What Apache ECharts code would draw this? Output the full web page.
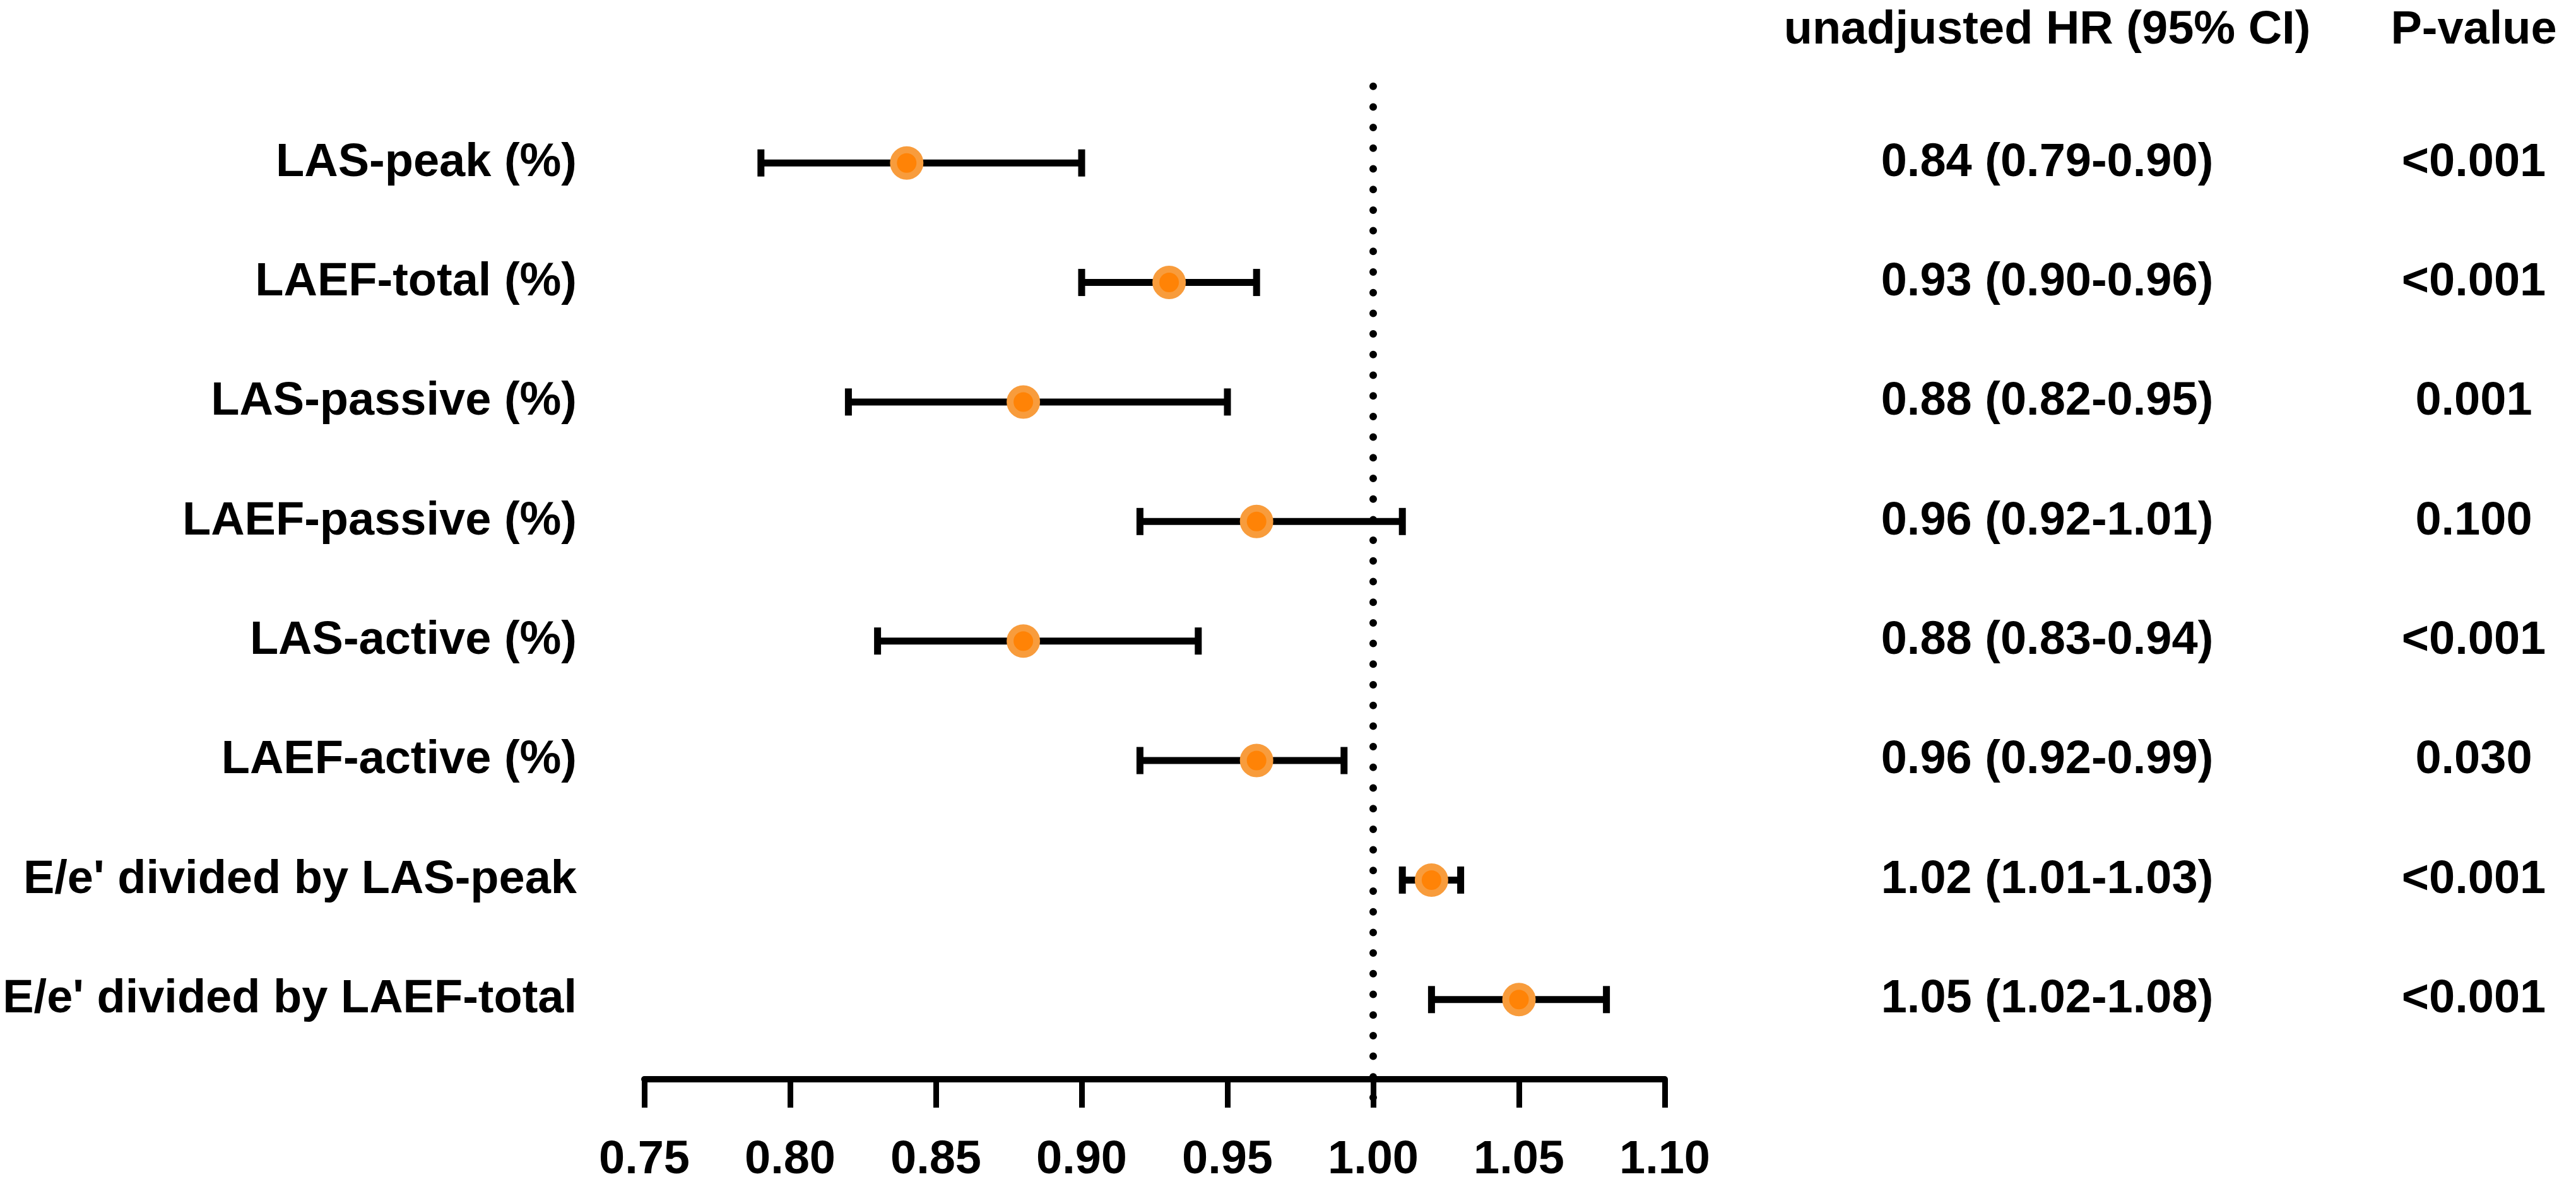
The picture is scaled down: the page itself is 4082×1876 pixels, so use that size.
<!DOCTYPE html>
<html>
<head>
<meta charset="utf-8">
<script src="https://cdn.jsdelivr.net/npm/echarts@6/dist/echarts.min.js"></script>
<style>
  html, body { margin: 0; padding: 0; background: #fff; }
  #chart { width: 4082px; height: 1876px; }
</style>
</head>
<body>
<div id="chart"></div>
<script>
// forest plot data
var names = ['LAS-peak (%)', 'LAEF-total (%)', 'LAS-passive (%)', 'LAEF-passive (%)',
             'LAS-active (%)', 'LAEF-active (%)', "E/e' divided by LAS-peak", "E/e' divided by LAEF-total"]
var hr = [0.84, 0.93, 0.88, 0.96, 0.88, 0.96, 1.02, 1.05]
var lower = [0.79, 0.90, 0.82, 0.92, 0.83, 0.92, 1.01, 1.02]
var upper = [0.90, 0.96, 0.95, 1.01, 0.94, 0.99, 1.03, 1.08]
var pValues = ['<0.001', '<0.001', '0.001', '0.100', '<0.001', '0.030', '<0.001', '<0.001']
var xTicks = [0.75, 0.80, 0.85, 0.90, 0.95, 1.00, 1.05, 1.10]

var font = '"Liberation Sans", Arial, sans-serif'
var hrText = hr.map(function (v, i) {
    return v.toFixed(2) + ' (' + lower[i].toFixed(2) + '-' + upper[i].toFixed(2) + ')'
})

var myChart = echarts.init(document.getElementById('chart'))

var textStyle = { color: '#000', fontSize: 74, fontWeight: 'bold', fontFamily: font }

option = {
    backgroundColor: '#fff',
    animation: false,
    grid: [
        { left: 1021, width: 1617, top: 163.5, height: 1544 },
        { left: 1021, width: 1617, top: 118, bottom: 137 }
    ],
    xAxis: [{
        gridIndex: 0,
        type: 'value',
        min: xTicks[0],
        max: xTicks[xTicks.length - 1],
        interval: 0.05,
        offset: 31.5,
        axisLine: { show: true, lineStyle: { color: '#000', width: 10 } },
        axisTick: { show: true, length: 45, lineStyle: { color: '#000', width: 9 } },
        splitLine: { show: false },
        axisLabel: Object.assign({
            margin: 92,
            formatter: function (v) { return v.toFixed(2) }
        }, textStyle)
    }, {
        gridIndex: 1,
        type: 'value',
        min: xTicks[0],
        max: xTicks[xTicks.length - 1],
        show: false
    }],
    yAxis: [{
        gridIndex: 0,
        type: 'category',
        inverse: true,
        data: names,
        axisLine: { show: false },
        axisTick: { show: false },
        axisLabel: Object.assign({ margin: 107 }, textStyle)
    }, {
        gridIndex: 0,
        type: 'category',
        inverse: true,
        position: 'right',
        offset: 606,
        data: names,
        name: 'unadjusted HR (95% CI)',
        nameLocation: 'start',
        nameGap: 78,
        nameTextStyle: Object.assign({ align: 'center' }, textStyle),
        axisLine: { show: false },
        axisTick: { show: false },
        axisLabel: Object.assign({
            margin: 0,
            align: 'center',
            formatter: function (v, i) { return hrText[i] }
        }, textStyle)
    }, {
        gridIndex: 0,
        type: 'category',
        inverse: true,
        position: 'right',
        offset: 1282,
        data: names,
        name: 'P-value',
        nameLocation: 'start',
        nameGap: 78,
        nameTextStyle: Object.assign({ align: 'center' }, textStyle),
        axisLine: { show: false },
        axisTick: { show: false },
        axisLabel: Object.assign({
            margin: 0,
            align: 'center',
            formatter: function (v, i) { return pValues[i] }
        }, textStyle)
    }, {
        gridIndex: 1,
        type: 'value',
        min: 0,
        max: 1,
        show: false
    }],
    series: [{
        // reference line at HR = 1
        type: 'line',
        xAxisIndex: 1,
        yAxisIndex: 3,
        data: [[1, 0], [1, 1]],
        symbol: 'none',
        silent: true,
        lineStyle: { color: '#000', width: 12, type: [0, 32.7], cap: 'round' }
    }, {
        // confidence intervals
        type: 'custom',
        xAxisIndex: 0,
        yAxisIndex: 0,
        data: names.map(function (n, i) { return [lower[i], upper[i], i] }),
        renderItem: function (params, api) {
            var a = api.coord([api.value(0), api.value(2)])
            var b = api.coord([api.value(1), api.value(2)])
            var h = 21.5
            var style = { stroke: '#000', lineWidth: 11, fill: null }
            return {
                type: 'group',
                children: [
                    { type: 'line', shape: { x1: a[0], y1: a[1], x2: b[0], y2: b[1] }, style: style },
                    { type: 'line', shape: { x1: a[0], y1: a[1] - h, x2: a[0], y2: a[1] + h }, style: style },
                    { type: 'line', shape: { x1: b[0], y1: b[1] - h, x2: b[0], y2: b[1] + h }, style: style }
                ]
            }
        },
        z: 2
    }, {
        // hazard ratio points
        type: 'scatter',
        xAxisIndex: 0,
        yAxisIndex: 0,
        data: hr.map(function (v, i) { return [v, i] }),
        symbol: 'circle',
        symbolSize: 42,
        itemStyle: { color: '#FF8306', borderColor: '#F89C3C', borderWidth: 11, opacity: 1 },
        z: 3
    }]
}
myChart.setOption(option)
</script>
</body>
</html>
